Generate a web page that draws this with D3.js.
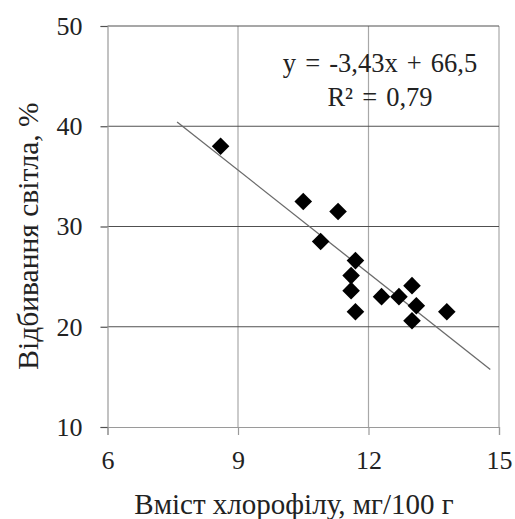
<!DOCTYPE html>
<html>
<head>
  <title>Chlorophyll vs reflectance</title>
  <script src="https://d3js.org/d3.v7.min.js"></script>
  <style>
    body { margin: 0; background: #fff; }
    svg text { font-family: "Liberation Serif", Tinos, "Times New Roman", "DejaVu Serif", serif !important; fill: #222; }
  </style>
</head>
<body>
  <div id="chart"></div>
  <script>
    // chlorophyll content, mg/100 g
    const chlorophyll = [8.6, 10.5, 11.3, 10.9, 11.7, 11.6, 11.6, 11.7, 12.3, 12.7, 13.0, 13.1, 13.0, 13.8];
    // light reflectance, %
    const reflectance = [38, 32.5, 31.5, 28.5, 26.6, 25.1, 23.6, 21.5, 23, 23, 24.1, 22.1, 20.6, 21.5];
    const xTicks = [6, 9, 12, 15];
    const yTicks = [10, 20, 30, 40, 50];
    // trend line y = -3.43x + 66.5, drawn from x = 7.6 to 14.8
    const trendX = [7.6, 14.8];
    const slope = -3.43, intercept = 66.5;
    const equation = ["y = -3,43x + 66,5", "R² = 0,79"];

    const W = 515, H = 519;
    const margin = {top: 26, right: 16, bottom: 92, left: 107.5};

    const svg = d3.select("#chart").append("svg")
      .attr("width", W)
      .attr("height", H);

    const x = d3.scaleLinear().domain([6, 15]).range([margin.left, W - margin.right]);
    const y = d3.scaleLinear().domain([10, 50]).range([H - margin.bottom, margin.top]);

    // vertical gridlines (light)
    svg.append("g").selectAll("line")
      .data(xTicks.slice(1))
      .join("line")
      .attr("x1", d => x(d)).attr("x2", d => x(d))
      .attr("y1", y(50)).attr("y2", y(10))
      .attr("stroke", "#a8a8a8").attr("stroke-width", 1.2);

    // horizontal gridlines (dark)
    svg.append("g").selectAll("line")
      .data(yTicks.slice(1))
      .join("line")
      .attr("x1", x(6)).attr("x2", x(15))
      .attr("y1", d => y(d)).attr("y2", d => y(d))
      .attr("stroke", "#505050").attr("stroke-width", 1.2);

    // axes
    const xAxis = svg.append("g")
      .attr("transform", `translate(0,${y(10)})`)
      .call(d3.axisBottom(x).tickValues(xTicks).tickSize(8).tickPadding(16));
    const yAxis = svg.append("g")
      .attr("transform", `translate(${x(6)},0)`)
      .call(d3.axisLeft(y).tickValues(yTicks).tickSize(7).tickPadding(18));

    [xAxis, yAxis].forEach(g => {
      g.attr("font-family", null);
      g.select(".domain").attr("stroke", "#9a9a9a").attr("stroke-width", 1.2);
      g.selectAll(".tick line").attr("stroke", "#9a9a9a").attr("stroke-width", 1.2);
      g.selectAll(".tick text")
        .attr("font-size", 26)
        .attr("fill", "#222");
    });
    yAxis.selectAll(".tick line").attr("stroke", "#505050");

    // trend line
    svg.append("line")
      .attr("x1", x(trendX[0])).attr("y1", y(slope * trendX[0] + intercept))
      .attr("x2", x(trendX[1])).attr("y2", y(slope * trendX[1] + intercept))
      .attr("stroke", "#6a6a6a").attr("stroke-width", 1.3);

    // points (diamonds)
    const diamond = d3.symbol().type(d3.symbolSquare).size(155);
    svg.append("g").selectAll("path")
      .data(chlorophyll.map((c, i) => [c, reflectance[i]]))
      .join("path")
      .attr("d", diamond)
      .attr("transform", d => `translate(${x(d[0])},${y(d[1])}) rotate(45)`)
      .attr("fill", "#000");

    // equation
    svg.append("g").selectAll("text")
      .data(equation)
      .join("text")
      .attr("x", 380)
      .attr("y", (d, i) => 72 + i * 34)
      .attr("text-anchor", "middle")
      .attr("font-size", 26.5)
      .attr("word-spacing", 2.5)
      .text(d => d);

    // axis titles
    svg.append("text")
      .attr("x", 294).attr("y", 514)
      .attr("text-anchor", "middle")
      .attr("font-size", 29)
      .text("Вміст хлорофілу,  мг/100 г");

    svg.append("text")
      .attr("transform", "translate(38,236) rotate(-90)")
      .attr("text-anchor", "middle")
      .attr("font-size", 29.5)
      .text("Відбивання світла, %");
  </script>
</body>
</html>
